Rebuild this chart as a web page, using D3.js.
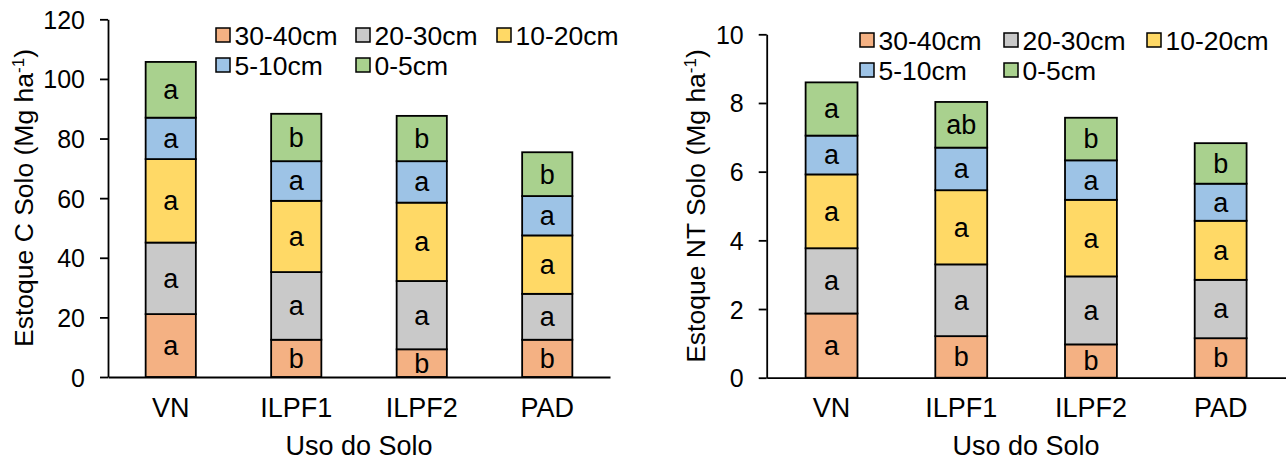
<!DOCTYPE html>
<html>
  <head>
    <meta charset="utf-8" />
    <title>Estoque de C e NT no solo</title>
    <script src="https://d3js.org/d3.v7.min.js"></script>
    <style>
      body {
        margin: 0;
        background: #fff;
      }
      svg {
        font-family: 'Liberation Sans', Arial, sans-serif;
      }
    </style>
  </head>
  <body>
    <div id="chart"></div>
    <script>
      // dados
      const usos = ['VN', 'ILPF1', 'ILPF2', 'PAD'];
      const camadas = ['30-40cm', '20-30cm', '10-20cm', '5-10cm', '0-5cm'];
      const cores = ['#F4B183', '#C9C9C9', '#FFD966', '#9DC3E6', '#A9D18E'];

      // estoque de C (Mg/ha), uma linha por camada, colunas na ordem de usos
      const estoqueC = [
        [21.1, 12.5, 9.3, 12.5],
        [24.0, 22.7, 22.9, 15.4],
        [28.0, 23.9, 26.3, 19.6],
        [13.9, 13.3, 13.9, 13.2],
        [18.7, 15.9, 15.2, 14.7],
      ];
      const letrasC = [
        ['a', 'b', 'b', 'b'],
        ['a', 'a', 'a', 'a'],
        ['a', 'a', 'a', 'a'],
        ['a', 'a', 'a', 'a'],
        ['a', 'b', 'b', 'b'],
      ];
      const ticksC = [0, 20, 40, 60, 80, 100, 120];

      // estoque de NT (Mg/ha)
      const estoqueNT = [
        [1.87, 1.21, 0.97, 1.15],
        [1.9, 2.09, 1.98, 1.7],
        [2.15, 2.16, 2.23, 1.72],
        [1.13, 1.24, 1.15, 1.08],
        [1.55, 1.33, 1.24, 1.18],
      ];
      const letrasNT = [
        ['a', 'b', 'b', 'b'],
        ['a', 'a', 'a', 'a'],
        ['a', 'a', 'a', 'a'],
        ['a', 'a', 'a', 'a'],
        ['a', 'ab', 'b', 'b'],
      ];
      const ticksNT = [0, 2, 4, 6, 8, 10];

      const width = 1287;
      const height = 464;

      const svg = d3
        .select('#chart')
        .append('svg')
        .attr('width', width)
        .attr('height', height);

      function grafico(cfg) {
        const g = svg.append('g');

        const x = d3
          .scaleBand()
          .domain(usos)
          .range([cfg.left, cfg.right])
          .paddingInner(0.6)
          .paddingOuter(0.3);

        const y = d3
          .scaleLinear()
          .domain([0, cfg.max])
          .range([cfg.bottom, cfg.top]);

        const linhas = usos.map((u, i) => {
          const r = { uso: u, i: i };
          camadas.forEach((c, j) => (r[c] = cfg.valores[j][i]));
          return r;
        });
        const series = d3.stack().keys(camadas)(linhas);

        // barras empilhadas
        series.forEach((s, j) => {
          g.append('g')
            .selectAll('rect')
            .data(s)
            .join('rect')
            .attr('x', (d) => x(d.data.uso))
            .attr('y', (d) => y(d[1]))
            .attr('width', x.bandwidth())
            .attr('height', (d) => y(d[0]) - y(d[1]))
            .attr('fill', cores[j])
            .attr('stroke', '#000')
            .attr('stroke-width', 1.8);
        });

        // letras das comparações
        series.forEach((s, j) => {
          g.append('g')
            .selectAll('text')
            .data(s)
            .join('text')
            .attr('x', (d) => x(d.data.uso) + x.bandwidth() / 2)
            .attr('y', (d) => (y(d[0]) + y(d[1])) / 2)
            .attr('dy', '0.35em')
            .attr('text-anchor', 'middle')
            .attr('font-size', 27)
            .text((d) => cfg.letras[j][d.data.i]);
        });

        // eixo y
        const ay = g
          .append('g')
          .attr('transform', `translate(${cfg.left},0)`)
          .call(
            d3
              .axisLeft(y)
              .tickValues(cfg.ticks)
              .tickSizeInner(8)
              .tickSizeOuter(0)
              .tickPadding(15)
              .tickFormat(d3.format('d')),
          );
        ay.select('.domain').attr('stroke', '#000').attr('stroke-width', 1.8);
        ay.selectAll('.tick line').attr('stroke', '#000').attr('stroke-width', 1.8);
        ay.selectAll('.tick text')
          .attr('dy', '0.36em')
          .attr('fill', '#000')
          .attr('font-size', 25)
          .attr('font-family', null);

        // eixo x
        const ax = g
          .append('g')
          .attr('transform', `translate(0,${cfg.bottom})`)
          .call(d3.axisBottom(x).tickSize(0).tickSizeOuter(0));
        ax.select('.domain').attr('stroke', '#000').attr('stroke-width', 1.8);
        ax.selectAll('.tick text')
          .attr('y', 417 - cfg.bottom)
          .attr('dy', null)
          .attr('fill', '#000')
          .attr('font-size', 27)
          .attr('font-family', null);

        // títulos dos eixos
        g.append('text')
          .attr('x', (cfg.left + cfg.right) / 2)
          .attr('y', 455)
          .attr('text-anchor', 'middle')
          .attr('font-size', 27)
          .text('Uso do Solo');

        const ty = g
          .append('text')
          .attr('transform', `translate(${cfg.ylabX},${cfg.ylabY}) rotate(-90)`)
          .attr('text-anchor', 'middle')
          .attr('font-size', 26.5);
        ty.append('tspan').text(cfg.ylabel + ' (Mg ha');
        ty.append('tspan').attr('font-size', 17).attr('dy', -9).text('-1');
        ty.append('tspan').attr('dy', 9).text(')');

        // legenda
        const leg = g.append('g');
        camadas.forEach((c, j) => {
          const col = j < 3 ? j : j - 3;
          const row = j < 3 ? 0 : 1;
          const lx = cfg.legX[col];
          const ly = cfg.legY[row];
          leg
            .append('rect')
            .attr('x', lx)
            .attr('y', ly - 7)
            .attr('width', 14)
            .attr('height', 14)
            .attr('fill', cores[j])
            .attr('stroke', '#000')
            .attr('stroke-width', 1.5);
          leg
            .append('text')
            .attr('x', lx + 18.5)
            .attr('y', ly + 9.5)
            .attr('font-size', 26.5)
            .text(c);
        });
      }

      grafico({
        valores: estoqueC,
        letras: letrasC,
        ticks: ticksC,
        max: 120,
        left: 108,
        right: 610,
        top: 19.3,
        bottom: 377,
        ylabel: 'Estoque C Solo',
        ylabX: 33,
        ylabY: 198,
        legX: [216, 356, 497],
        legY: [35, 65],
      });

      grafico({
        valores: estoqueNT,
        letras: letrasNT,
        ticks: ticksNT,
        max: 10,
        left: 766.7,
        right: 1285.5,
        top: 34.3,
        bottom: 377.7,
        ylabel: 'Estoque NT Solo',
        ylabX: 705,
        ylabY: 206,
        legX: [860, 1004, 1147],
        legY: [40, 70],
      });
    </script>
  </body>
</html>
